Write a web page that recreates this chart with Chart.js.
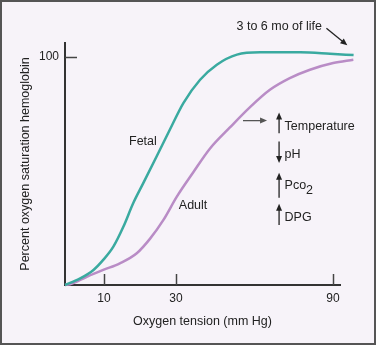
<!DOCTYPE html>
<html>
<head>
<meta charset="utf-8">
<script src="https://cdn.jsdelivr.net/npm/chart.js@4/dist/chart.umd.min.js"></script>
<style>
  html, body { margin: 0; padding: 0; background: #f7f3f9; }
  .wrap { width: 376px; height: 345px; position: relative; }
</style>
</head>
<body>
<div class="wrap"><canvas id="chart"></canvas></div>
<script>
// oxygen tension (mm Hg) / % saturation
const fetalX = [0, 3.9, 7.3, 9.8, 12.6, 15.4, 18.1, 20.9, 24.6, 28.3, 32.8, 39.2, 45.6, 53.3, 62.2, 77.5, 88.9, 97.9];
const fetalY = [0, 2.9, 6.6, 11, 16.8, 25.6, 35.8, 44.6, 56.3, 68.1, 79.7, 89.9, 96.5, 100.9, 101.9, 101.9, 101.3, 100.7];
const adultX = [0, 1.3, 5.6, 9.8, 14.4, 19.1, 22.8, 26.5, 30.3, 36.6, 43, 50.6, 58.2, 65.9, 73.5, 81.2, 90.1, 97.8];
const adultY = [0, 0.3, 3.6, 6.6, 9.5, 13.9, 20.3, 28.5, 38.7, 49.4, 59.8, 69, 77.8, 85.5, 90.6, 94.3, 97.2, 98.7];

const xTicks = [10, 30, 90];
const yTicks = [100];
// the x axis in the drawing is not to scale: where each tick sits along it
const xKnots = [0, 10, 30, 90];
const xKnotPos = [0, 13.1, 37.3, 90];

const FONT = "'Liberation Sans', Arial, Helvetica, sans-serif";
const teal = "rgb(58, 170, 160)";
const purple = "rgb(185, 140, 198)";
const ink = "#222";

function warp(v) {
  for (let i = 1; i < xKnots.length; i++) {
    if (v <= xKnots[i] || i === xKnots.length - 1) {
      let a = xKnots[i - 1], b = xKnots[i];
      let pa = xKnotPos[i - 1], pb = xKnotPos[i];
      return pa + (v - a) * (pb - pa) / (b - a);
    }
  }
}
function unwarp(p) {
  for (let i = 1; i < xKnotPos.length; i++) {
    if (p <= xKnotPos[i] || i === xKnotPos.length - 1) {
      let a = xKnotPos[i - 1], b = xKnotPos[i];
      let va = xKnots[i - 1], vb = xKnots[i];
      return va + (p - a) * (vb - va) / (b - a);
    }
  }
}

class WarpScale extends Chart.LinearScale {
  getPixelForValue(value) {
    if (value === null || value === undefined) return NaN;
    const lo = warp(this.min), hi = warp(this.max);
    return this.getPixelForDecimal((warp(value) - lo) / (hi - lo));
  }
  getValueForPixel(pixel) {
    const lo = warp(this.min), hi = warp(this.max);
    return unwarp(lo + this.getDecimalForPixel(pixel) * (hi - lo));
  }
}
WarpScale.id = "warp";
WarpScale.defaults = Chart.LinearScale.defaults;
Chart.register(WarpScale);

// annotations, in chart units
const notes = [
  { text: "Fetal", x: 20.8, y: 62.8, align: "center" },
  { text: "Adult", x: 36.5, y: 35, align: "center" },
  { text: "Temperature", x: 71.5, y: 69.3, align: "left" },
  { text: "pH", x: 71.5, y: 57, align: "left" },
  { text: "Pco", sub: "2", x: 71.5, y: 43.4, align: "left" },
  { text: "DPG", x: 71.5, y: 29.4, align: "left" },
  { text: "3 to 6 mo of life", x: 85.8, y: 113, align: "right" },
];
const arrows = [
  { x1: 55.6, y1: 72, x2: 64.8, y2: 72, color: "#555" },
  { x1: 69.4, y1: 66.5, x2: 69.4, y2: 75.6, color: ink },
  { x1: 69.4, y1: 62.9, x2: 69.4, y2: 53.4, color: ink },
  { x1: 69.4, y1: 38.2, x2: 69.4, y2: 49.2, color: ink },
  { x1: 69.4, y1: 26.3, x2: 69.4, y2: 35.6, color: ink },
  { x1: 87.5, y1: 112.5, x2: 95.5, y2: 105, color: ink },
];

const frame = {
  id: "frame",
  beforeDraw(chart) {
    const c = chart.ctx;
    c.save();
    c.fillStyle = "#f7f3f9";
    c.fillRect(0, 0, chart.width, chart.height);
    c.restore();
  },
  afterDraw(chart) {
    const c = chart.ctx;
    const xs = chart.scales.x, ys = chart.scales.y;
    c.save();
    // inward ticks
    c.strokeStyle = "#444";
    c.lineWidth = 1.5;
    xTicks.forEach((t) => {
      const px = Math.round(xs.getPixelForValue(t)) + 0.5;
      c.beginPath();
      c.moveTo(px, ys.bottom);
      c.lineTo(px, ys.bottom - 11);
      c.stroke();
    });
    yTicks.forEach((t) => {
      const py = Math.round(ys.getPixelForValue(t)) + 0.5;
      c.beginPath();
      c.moveTo(xs.left, py);
      c.lineTo(xs.left + 12, py);
      c.stroke();
    });
    // text
    c.fillStyle = ink;
    c.font = "12.5px " + FONT;
    c.textBaseline = "middle";
    notes.forEach((n) => {
      const px = xs.getPixelForValue(n.x), py = ys.getPixelForValue(n.y);
      c.textAlign = n.align;
      c.fillText(n.text, px, py);
      if (n.sub) {
        const w = c.measureText(n.text).width;
        c.textAlign = "left";
        c.fillText(n.sub, px + w, py + 5);
      }
    });
    // arrows
    arrows.forEach((a) => {
      const x1 = xs.getPixelForValue(a.x1), y1 = ys.getPixelForValue(a.y1);
      const x2 = xs.getPixelForValue(a.x2), y2 = ys.getPixelForValue(a.y2);
      const ang = Math.atan2(y2 - y1, x2 - x1);
      c.strokeStyle = a.color;
      c.fillStyle = a.color;
      c.lineWidth = 1.3;
      c.beginPath();
      c.moveTo(x1, y1);
      c.lineTo(x2 - 4 * Math.cos(ang), y2 - 4 * Math.sin(ang));
      c.stroke();
      c.beginPath();
      c.moveTo(x2, y2);
      c.lineTo(x2 - 7 * Math.cos(ang) + 3 * Math.sin(ang), y2 - 7 * Math.sin(ang) - 3 * Math.cos(ang));
      c.lineTo(x2 - 7 * Math.cos(ang) - 3 * Math.sin(ang), y2 - 7 * Math.sin(ang) + 3 * Math.cos(ang));
      c.closePath();
      c.fill();
    });
    // outer border
    c.strokeStyle = "#555";
    c.lineWidth = 2;
    c.strokeRect(1, 1, chart.width - 2, chart.height - 2);
    c.restore();
  },
};

const ctx = document.getElementById("chart").getContext("2d");
new Chart(ctx, {
  type: "line",
  data: {
    datasets: [
      {
        label: "Fetal",
        data: fetalX.map((x, i) => ({ x: x, y: fetalY[i] })),
        borderColor: teal,
        borderWidth: 2.5,
        pointRadius: 0,
        cubicInterpolationMode: "monotone",
        clip: false,
      },
      {
        label: "Adult",
        data: adultX.map((x, i) => ({ x: x, y: adultY[i] })),
        borderColor: purple,
        borderWidth: 2.5,
        pointRadius: 0,
        cubicInterpolationMode: "monotone",
        clip: false,
      },
    ],
  },
  options: {
    responsive: true,
    maintainAspectRatio: false,
    animation: false,
    layout: { padding: { top: 43, right: 36, left: 0, bottom: 0 } },
    plugins: {
      legend: { display: false },
      tooltip: { enabled: false },
    },
    scales: {
      x: {
        type: "warp",
        min: 0,
        max: 92.7,
        afterBuildTicks: (scale) => {
          scale.ticks = xTicks.map((v) => ({ value: v }));
        },
        afterFit: (scale) => {
          scale.height = 60;
        },
        grid: { display: true, drawOnChartArea: false, drawTicks: false },
        border: { display: true, color: "#333", width: 2 },
        ticks: {
          padding: 6,
          color: ink,
          maxRotation: 0,
          font: { family: FONT, size: 12 },
        },
        title: {
          display: true,
          text: "Oxygen tension (mm Hg)",
          color: ink,
          font: { family: FONT, size: 12.5 },
          padding: { top: 0, bottom: 16 },
        },
      },
      y: {
        min: 0,
        max: 106,
        afterBuildTicks: (scale) => {
          scale.ticks = yTicks.map((v) => ({ value: v }));
        },
        afterFit: (scale) => {
          scale.width = 65;
        },
        grid: { display: true, drawOnChartArea: false, drawTicks: false },
        border: { display: true, color: "#333", width: 2 },
        ticks: {
          padding: 6,
          color: ink,
          font: { family: FONT, size: 12 },
        },
        title: {
          display: true,
          text: "Percent oxygen saturation hemoglobin",
          color: ink,
          font: { family: FONT, size: 12.5 },
          padding: { top: 18, bottom: 0 },
        },
      },
    },
  },
  plugins: [frame],
});
</script>
</body>
</html>
